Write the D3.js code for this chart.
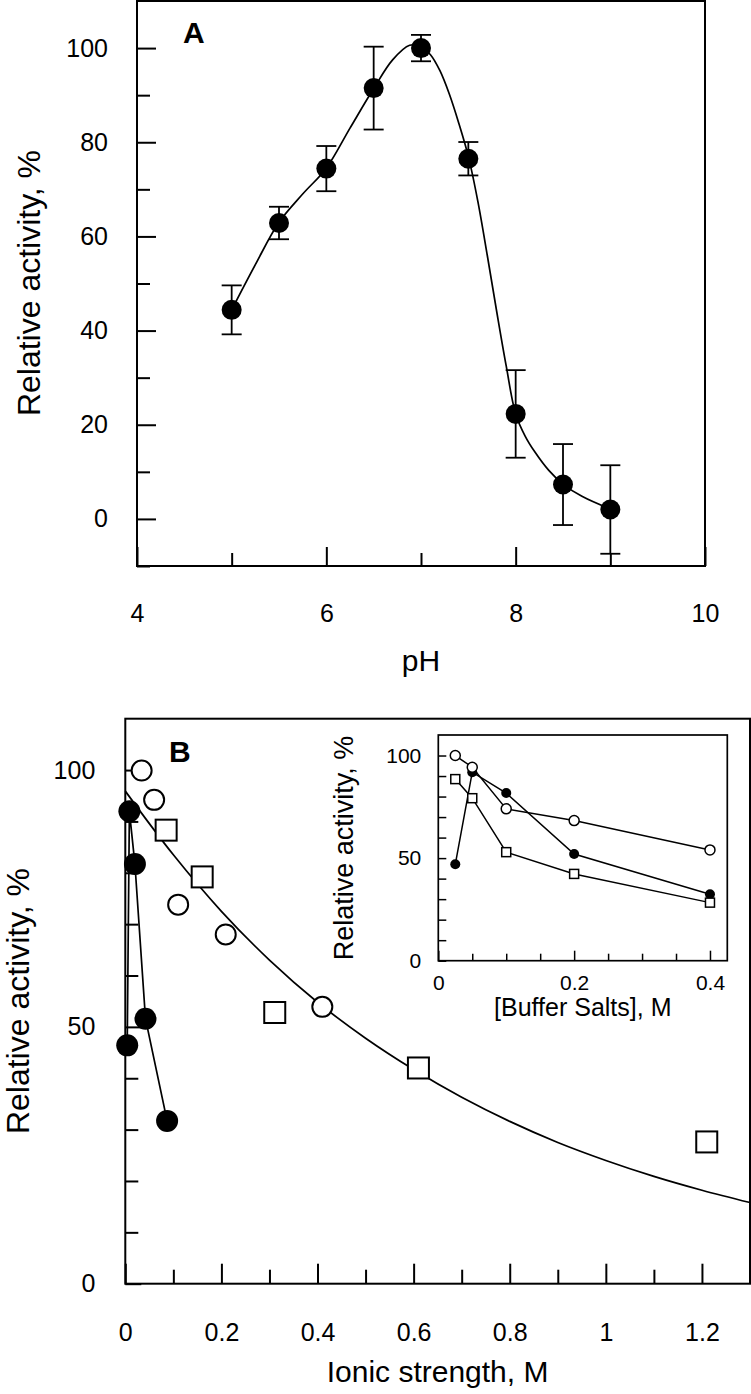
<!DOCTYPE html>
<html><head><meta charset="utf-8">
<script src="https://cdn.jsdelivr.net/npm/d3@7"></script>
<style>
html,body{margin:0;padding:0;background:#fff;}
text{font-family:"Liberation Sans",Arial,sans-serif;fill:#000;}
</style></head>
<body>
<svg id="chart" width="751" height="1394"></svg>
<script>
// ---------- Panel A data ----------
const phValues   = [5, 5.5, 6, 6.5, 7, 7.5, 8, 8.5, 9];
const activityA  = [44.4, 62.85, 74.4, 91.5, 100, 76.5, 22.3, 7.3, 2.0];
const errorA     = [5.2, 3.45, 4.8, 8.8, 2.8, 3.55, 9.3, 8.6, 9.4];
const fitA_pH    = [5, 5.25, 5.5, 5.75, 6, 6.25, 6.5, 6.7, 6.88, 7.0, 7.1, 7.2, 7.3, 7.4, 7.5, 7.6, 7.7, 7.8, 7.9, 8, 8.1, 8.2, 8.35, 8.5, 8.7, 9];
const fitA_act   = [44.4, 54, 63, 69, 74.5, 83, 91.4, 97.5, 100.6, 100.3, 98.6, 95.2, 90.2, 84, 77, 67.5, 56, 44, 32.5, 22.3, 17.6, 14.3, 10.3, 7.4, 4.8, 2.1];
const xTicksA    = [4, 6, 8, 10];
const xMinorA    = [5, 7, 9];
const yTicksA    = [0, 20, 40, 60, 80, 100];
const yMinorA    = [-10, 10, 30, 50, 70, 90];

// ---------- Panel B data ----------
const ionicFilled  = [0.004, 0.0085, 0.02, 0.042, 0.087];
const actFilled    = [46.4, 92, 81.7, 51.6, 31.7];
const ionicOpen    = [0.034, 0.06, 0.11, 0.209, 0.41];
const actOpen      = [99.9, 94.2, 73.8, 68.0, 53.9];
const ionicSquare  = [0.085, 0.16, 0.311, 0.61, 1.21];
const actSquare    = [88.3, 79.2, 52.8, 42.0, 27.6];
const fitB_ionic   = [0, 0.1, 0.2, 0.3, 0.4, 0.5, 0.6, 0.7, 0.8, 0.9, 1.0, 1.1, 1.2, 1.3];
const fitB_act     = [95.9, 83.5, 72.5, 63, 54.8, 47.8, 41.7, 36.3, 31.6, 27.5, 24, 20.9, 18.2, 15.8];
const xTicksB      = [0, 0.2, 0.4, 0.6, 0.8, 1, 1.2];
const xMinorB      = [0.1, 0.3, 0.5, 0.7, 0.9, 1.1];
const yTicksB      = [0, 50, 100];
const yMinorB      = [10, 20, 30, 40, 60, 70, 80, 90];

// ---------- Inset data ----------
const bufferSalts  = [0.025, 0.05, 0.1, 0.2, 0.4];
const insetOpen    = [100, 94.3, 74, 68.3, 54];
const insetFilled  = [47, 91.9, 81.7, 52, 32.4];
const insetSquare  = [88.5, 79.2, 52.9, 42.3, 28.3];
const xTicksIn     = [0, 0.2, 0.4];
const xMinorIn     = [0.05, 0.1, 0.15, 0.25, 0.3, 0.35];
const yTicksIn     = [0, 50, 100];
const yMinorIn     = [10, 20, 30, 40, 60, 70, 80, 90];

const svg = d3.select("#chart");
svg.append("rect").attr("width",751).attr("height",1394).attr("fill","#fff");

function zip(xs, ys){ return xs.map((x,i)=>[x, ys[i]]); }

function drawAxes(g, x, y, o){
  g.append("g").attr("transform",`translate(0,${y.range()[0]})`)
    .call(d3.axisBottom(x).tickValues(o.xMinor).tickSizeInner(-o.minorLen).tickSizeOuter(0).tickFormat(""))
    .call(s=>s.select(".domain").remove());
  g.append("g").attr("transform",`translate(${x.range()[0]},0)`)
    .call(d3.axisLeft(y).tickValues(o.yMinor).tickSizeInner(-o.minorLenY).tickSizeOuter(0).tickFormat(""))
    .call(s=>s.select(".domain").remove());
  const gx = g.append("g").attr("transform",`translate(0,${y.range()[0]})`)
    .call(d3.axisBottom(x).tickValues(o.xTicks).tickSizeInner(-o.majorLen).tickSizeOuter(0).tickPadding(o.xPad).tickFormat(d3.format("~g")))
    .call(s=>s.select(".domain").remove());
  const gy = g.append("g").attr("transform",`translate(${x.range()[0]},0)`)
    .call(d3.axisLeft(y).tickValues(o.yTicks).tickSizeInner(-o.majorLenY).tickSizeOuter(0).tickPadding(o.yPad).tickFormat(d3.format("~g")))
    .call(s=>s.select(".domain").remove());
  g.selectAll(".tick line").attr("stroke","#000").attr("stroke-width",o.tickW);
  [gx,gy].forEach(a=>a.selectAll("text").attr("font-size",o.fs).attr("font-family","Liberation Sans, Arial, sans-serif").attr("fill","#000"));
  g.append("rect")
    .attr("x",x.range()[0]).attr("y",y.range()[1])
    .attr("width",x.range()[1]-x.range()[0]).attr("height",y.range()[0]-y.range()[1])
    .attr("fill","none").attr("stroke","#000").attr("stroke-width",o.boxW);
}

// ================= Panel A =================
const xA = d3.scaleLinear().domain([4,10]).range([137,705]);
const yA = d3.scaleLinear().domain([-10,110]).range([566,1]);
const gA = svg.append("g");
drawAxes(gA, xA, yA, {xMinor:xMinorA, yMinor:yMinorA, xTicks:xTicksA, yTicks:yTicksA,
  minorLen:13, majorLen:19, minorLenY:13, majorLenY:19, xPad:38, yPad:29, fs:25, tickW:2, boxW:2});

gA.append("path").datum(zip(fitA_pH, fitA_act))
  .attr("d", d3.line().x(d=>xA(d[0])).y(d=>yA(d[1])).curve(d3.curveCatmullRom.alpha(0.5)))
  .attr("fill","none").attr("stroke","#000").attr("stroke-width",1.7);

const ptsA = phValues.map((p,i)=>({x:p, y:activityA[i], e:errorA[i]}));
const eb = gA.append("g").attr("stroke","#000").attr("stroke-width",1.8);
ptsA.forEach(d=>{
  eb.append("line").attr("x1",xA(d.x)).attr("x2",xA(d.x)).attr("y1",yA(d.y-d.e)).attr("y2",yA(d.y+d.e));
  eb.append("line").attr("x1",xA(d.x)-10).attr("x2",xA(d.x)+10).attr("y1",yA(d.y-d.e)).attr("y2",yA(d.y-d.e));
  eb.append("line").attr("x1",xA(d.x)-10).attr("x2",xA(d.x)+10).attr("y1",yA(d.y+d.e)).attr("y2",yA(d.y+d.e));
});
gA.append("g").selectAll("circle").data(ptsA).join("circle")
  .attr("cx",d=>xA(d.x)).attr("cy",d=>yA(d.y)).attr("r",10).attr("fill","#000");

gA.append("text").attr("x",421).attr("y",671).attr("text-anchor","middle").attr("font-size",30).text("pH");
gA.append("text").attr("transform","translate(40,283) rotate(-90)").attr("text-anchor","middle").attr("font-size",32).text("Relative activity, %");
gA.append("text").attr("x",183).attr("y",43).attr("font-size",30).attr("font-weight","bold").text("A");

// ================= Panel B =================
const xB = d3.scaleLinear().domain([0,1.3]).range([125.3,750]);
const yB = d3.scaleLinear().domain([0,110]).range([1283.7,718.7]);
const gB = svg.append("g");
drawAxes(gB, xB, yB, {xMinor:xMinorB, yMinor:yMinorB, xTicks:xTicksB, yTicks:yTicksB,
  minorLen:14, majorLen:20, minorLenY:13, majorLenY:16, xPad:39.5, yPad:30, fs:25, tickW:2, boxW:2});

gB.append("path").datum(zip(fitB_ionic, fitB_act))
  .attr("d", d3.line().x(d=>xB(d[0])).y(d=>yB(d[1])).curve(d3.curveCatmullRom.alpha(0.5)))
  .attr("fill","none").attr("stroke","#000").attr("stroke-width",1.7);

gB.append("path").datum(zip(ionicFilled, actFilled))
  .attr("d", d3.line().x(d=>xB(d[0])).y(d=>yB(d[1])))
  .attr("fill","none").attr("stroke","#000").attr("stroke-width",1.7);

gB.append("g").selectAll("rect").data(zip(ionicSquare, actSquare)).join("rect")
  .attr("x",d=>xB(d[0])-10.5).attr("y",d=>yB(d[1])-10.5).attr("width",21).attr("height",21)
  .attr("fill","#fff").attr("stroke","#000").attr("stroke-width",2);
gB.append("g").selectAll("circle").data(zip(ionicOpen, actOpen)).join("circle")
  .attr("cx",d=>xB(d[0])).attr("cy",d=>yB(d[1])).attr("r",10)
  .attr("fill","#fff").attr("stroke","#000").attr("stroke-width",2);
gB.append("g").selectAll("circle").data(zip(ionicFilled, actFilled)).join("circle")
  .attr("cx",d=>xB(d[0])).attr("cy",d=>yB(d[1])).attr("r",11).attr("fill","#000");

gB.append("text").attr("x",437.6).attr("y",1382).attr("text-anchor","middle").attr("font-size",30).text("Ionic strength, M");
gB.append("text").attr("transform","translate(29,1001) rotate(-90)").attr("text-anchor","middle").attr("font-size",32).text("Relative activity, %");
gB.append("text").attr("x",169).attr("y",762).attr("font-size",30).attr("font-weight","bold").text("B");

// ================= Inset =================
const xI = d3.scaleLinear().domain([0,0.4255]).range([438.3,727.3]);
const yI = d3.scaleLinear().domain([0,110]).range([960.7,735]);
const gI = svg.append("g");
gI.append("rect").attr("x",438.3).attr("y",735).attr("width",289).attr("height",225.7).attr("fill","#fff");
drawAxes(gI, xI, yI, {xMinor:xMinorIn, yMinor:yMinorIn, xTicks:xTicksIn, yTicks:yTicksIn,
  minorLen:7, majorLen:10, minorLenY:8, majorLenY:8, xPad:14.4, yPad:17, fs:21, tickW:1.5, boxW:1.7});

const lineI = d3.line().x(d=>xI(d[0])).y(d=>yI(d[1]));
[insetFilled, insetSquare, insetOpen].forEach(s=>{
  gI.append("path").datum(zip(bufferSalts, s)).attr("d", lineI)
    .attr("fill","none").attr("stroke","#000").attr("stroke-width",1.5);
});
gI.append("g").selectAll("circle").data(zip(bufferSalts, insetFilled)).join("circle")
  .attr("cx",d=>xI(d[0])).attr("cy",d=>yI(d[1])).attr("r",5).attr("fill","#000");
gI.append("g").selectAll("rect").data(zip(bufferSalts, insetSquare)).join("rect")
  .attr("x",d=>xI(d[0])-4.5).attr("y",d=>yI(d[1])-4.5).attr("width",9).attr("height",9)
  .attr("fill","#fff").attr("stroke","#000").attr("stroke-width",1.5);
gI.append("g").selectAll("circle").data(zip(bufferSalts, insetOpen)).join("circle")
  .attr("cx",d=>xI(d[0])).attr("cy",d=>yI(d[1])).attr("r",5)
  .attr("fill","#fff").attr("stroke","#000").attr("stroke-width",1.5);

gI.append("text").attr("x",582.8).attr("y",1016).attr("text-anchor","middle").attr("font-size",25).text("[Buffer Salts], M");
gI.append("text").attr("transform","translate(353,848) rotate(-90)").attr("text-anchor","middle").attr("font-size",27).text("Relative activity, %");
</script>
</body></html>
